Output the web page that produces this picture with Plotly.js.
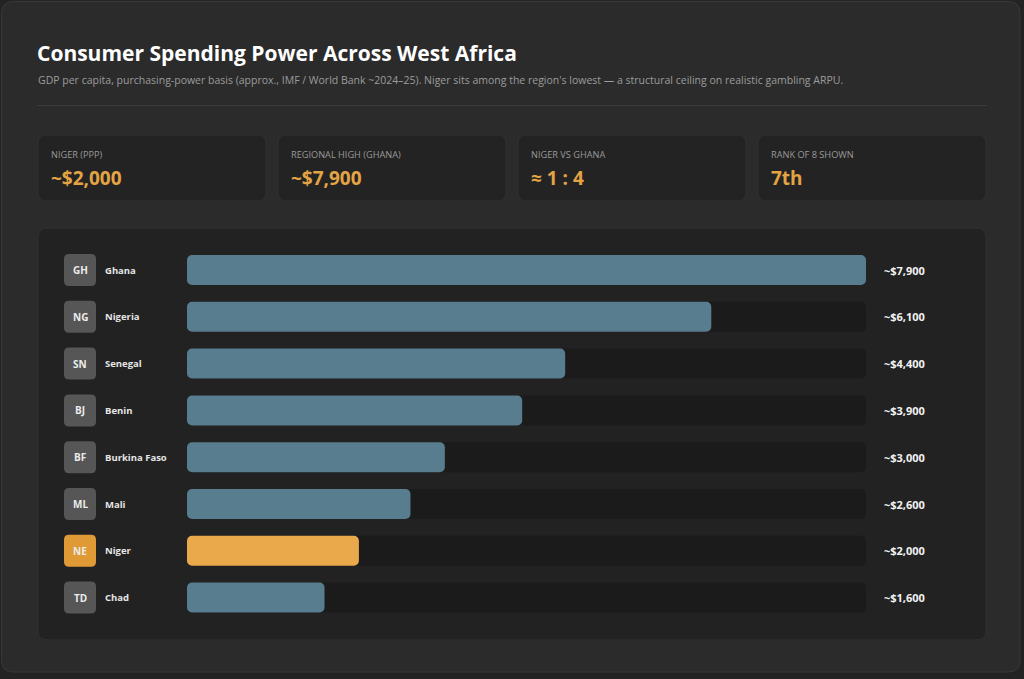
<!DOCTYPE html>
<html>
<head>
<meta charset="utf-8">
<script src="https://cdn.plot.ly/plotly-3.0.1.min.js"></script>
<style>
  html, body { margin: 0; padding: 0; background: #232323; }
  #chart { width: 1024px; height: 679px; }
</style>
</head>
<body>
<div id="chart"></div>
<script>
const codes = ["GH", "NG", "SN", "BJ", "BF", "ML", "NE", "TD"]
const countries = ["Ghana", "Nigeria", "Senegal", "Benin", "Burkina Faso", "Mali", "Niger", "Chad"]
const gdpPPP = [7900, 6100, 4400, 3900, 3000, 2600, 2000, 1600]
const highlight = "Niger"

const kpiLabels = ["NIGER (PPP)", "REGIONAL HIGH (GHANA)", "NIGER VS GHANA", "RANK OF 8 SHOWN"]
const kpiValues = ["~$2,000", "~$7,900", "≈ 1 : 4", "7th"]

const W = 1024, H = 679
const FONT = "Open Sans, Noto Sans, sans-serif"

// pixel -> paper helpers
function px(x) { return x / W }
function py(y) { return 1 - y / H }

// rounded rectangle in paper coords, given pixel box
function roundRect(x0, y0, x1, y1, r) {
    let p = (x, y) => px(x) + "," + py(y)
    return "M" + p(x0 + r, y0) + " L" + p(x1 - r, y0) +
        " Q" + p(x1, y0) + " " + p(x1, y0 + r) +
        " L" + p(x1, y1 - r) +
        " Q" + p(x1, y1) + " " + p(x1 - r, y1) +
        " L" + p(x0 + r, y1) +
        " Q" + p(x0, y1) + " " + p(x0, y1 - r) +
        " L" + p(x0, y0 + r) +
        " Q" + p(x0, y0) + " " + p(x0 + r, y0) + " Z"
}

function fmt(v) {
    return "~$" + v.toLocaleString("en-US")
}

let maxVal = Math.max(...gdpPPP)
let barColors = countries.map(c => c == highlight ? "#eaa94a" : "#587d8e")
let badgeColors = countries.map(c => c == highlight ? "#e09a35" : "#565656")

// an explicit base makes plotly round both ends of the bar
let track = {
    type: "bar", orientation: "h", y: countries,
    x: countries.map(() => maxVal), base: 0,
    marker: { color: "#1b1b1b", cornerradius: 5, line: { width: 0 } },
    hoverinfo: "skip", showlegend: false
}

let bars = {
    type: "bar", orientation: "h", y: countries,
    x: gdpPPP, base: 0,
    marker: { color: barColors, cornerradius: 5, line: { width: 0 } },
    hoverinfo: "skip", showlegend: false
}

let shapes = []
// outer card
shapes.push({ type: "path", xref: "paper", yref: "paper", layer: "below",
    path: roundRect(1.5, 1.5, 1020, 672, 12), fillcolor: "#2b2b2b", line: { color: "#383838", width: 1 } })
// divider
shapes.push({ type: "line", xref: "paper", yref: "paper", layer: "below",
    x0: px(37), x1: px(987), y0: py(105.5), y1: py(105.5), line: { color: "#3a3a3a", width: 1 } })
// kpi cards
let kpiX = [38, 278, 518, 758]
for (let i = 0; i < kpiLabels.length; i++) {
    shapes.push({ type: "path", xref: "paper", yref: "paper", layer: "below",
        path: roundRect(kpiX[i], 135, kpiX[i] + 228, 201, 8), fillcolor: "#232323", line: { color: "#313131", width: 1 } })
}
// chart panel
shapes.push({ type: "path", xref: "paper", yref: "paper", layer: "below",
    path: roundRect(38, 228, 986, 640, 10), fillcolor: "#222222", line: { color: "#303030", width: 1 } })

// badges, in row units on the y axis
let rowPx = 46.8
let rx = 5, ry = 5 / rowPx, hh = 16 / rowPx
for (let i = 0; i < countries.length; i++) {
    let x0 = px(64), x1 = px(96), y0 = i - hh, y1 = i + hh
    let rxp = px(rx)
    let path = "M" + (x0 + rxp) + "," + y0 + " L" + (x1 - rxp) + "," + y0 +
        " Q" + x1 + "," + y0 + " " + x1 + "," + (y0 + ry) +
        " L" + x1 + "," + (y1 - ry) +
        " Q" + x1 + "," + y1 + " " + (x1 - rxp) + "," + y1 +
        " L" + (x0 + rxp) + "," + y1 +
        " Q" + x0 + "," + y1 + " " + x0 + "," + (y1 - ry) +
        " L" + x0 + "," + (y0 + ry) +
        " Q" + x0 + "," + y0 + " " + (x0 + rxp) + "," + y0 + " Z"
    shapes.push({ type: "path", xref: "paper", yref: "y", layer: "above",
        path: path, fillcolor: badgeColors[i], line: { width: 0 } })
}

let annotations = []
// subtitle
annotations.push({ xref: "paper", yref: "paper", x: px(36), y: py(80), xanchor: "left", yanchor: "middle",
    showarrow: false, font: { family: FONT, size: 10.5, color: "#9c9c9c" },
    text: "GDP per capita, purchasing-power basis (approx., IMF / World Bank ~2024–25). Niger sits among the region's lowest — a structural ceiling on realistic gambling ARPU." })
// kpi texts
for (let i = 0; i < kpiLabels.length; i++) {
    annotations.push({ xref: "paper", yref: "paper", x: px(kpiX[i] + 11), y: py(155), xanchor: "left", yanchor: "middle",
        showarrow: false, text: kpiLabels[i], font: { family: FONT, size: 9.2, color: "#9a9a9a" } })
    annotations.push({ xref: "paper", yref: "paper", x: px(kpiX[i] + 11), y: py(178), xanchor: "left", yanchor: "middle",
        showarrow: false, text: "<b>" + kpiValues[i] + "</b>", font: { family: FONT, size: 19, color: "#e3a443" } })
}
// row labels
for (let i = 0; i < countries.length; i++) {
    annotations.push({ xref: "paper", yref: "y", x: px(80), y: countries[i], xanchor: "center", yanchor: "middle",
        showarrow: false, text: "<b>" + codes[i] + "</b>", font: { family: FONT, size: 10, color: "#ececec" } })
    annotations.push({ xref: "paper", yref: "y", x: px(103), y: countries[i], xanchor: "left", yanchor: "middle",
        showarrow: false, text: "<b>" + countries[i] + "</b>", font: { family: FONT, size: 9.5, color: "#e6e6e6" } })
    annotations.push({ xref: "paper", yref: "y", x: px(882), y: countries[i], xanchor: "left", yanchor: "middle",
        showarrow: false, text: "<b>" + fmt(gdpPPP[i]) + "</b>", font: { family: FONT, size: 11, color: "#f2f2f2" } })
}

let layout = {
    width: W,
    height: H,
    margin: { l: 0, r: 0, t: 0, b: 0 },
    paper_bgcolor: "#232323",
    plot_bgcolor: "rgba(0,0,0,0)",
    barmode: "overlay",
    bargap: 0.36,
    title: {
        text: "<b>Consumer Spending Power Across West Africa</b>",
        x: px(37), xanchor: "left", xref: "paper",
        y: py(54), yanchor: "middle", yref: "paper",
        font: { family: FONT, size: 21, color: "#ffffff" }
    },
    xaxis: {
        domain: [px(187), px(866)],
        range: [0, maxVal],
        visible: false,
        fixedrange: true
    },
    yaxis: {
        type: "category",
        domain: [py(621), py(246.6)],
        range: [countries.length - 0.5, -0.5],
        visible: false,
        fixedrange: true
    },
    shapes: shapes,
    annotations: annotations,
    hovermode: false
}

Plotly.newPlot("chart", [track, bars], layout, { displayModeBar: false, staticPlot: true })
</script>
</body>
</html>
